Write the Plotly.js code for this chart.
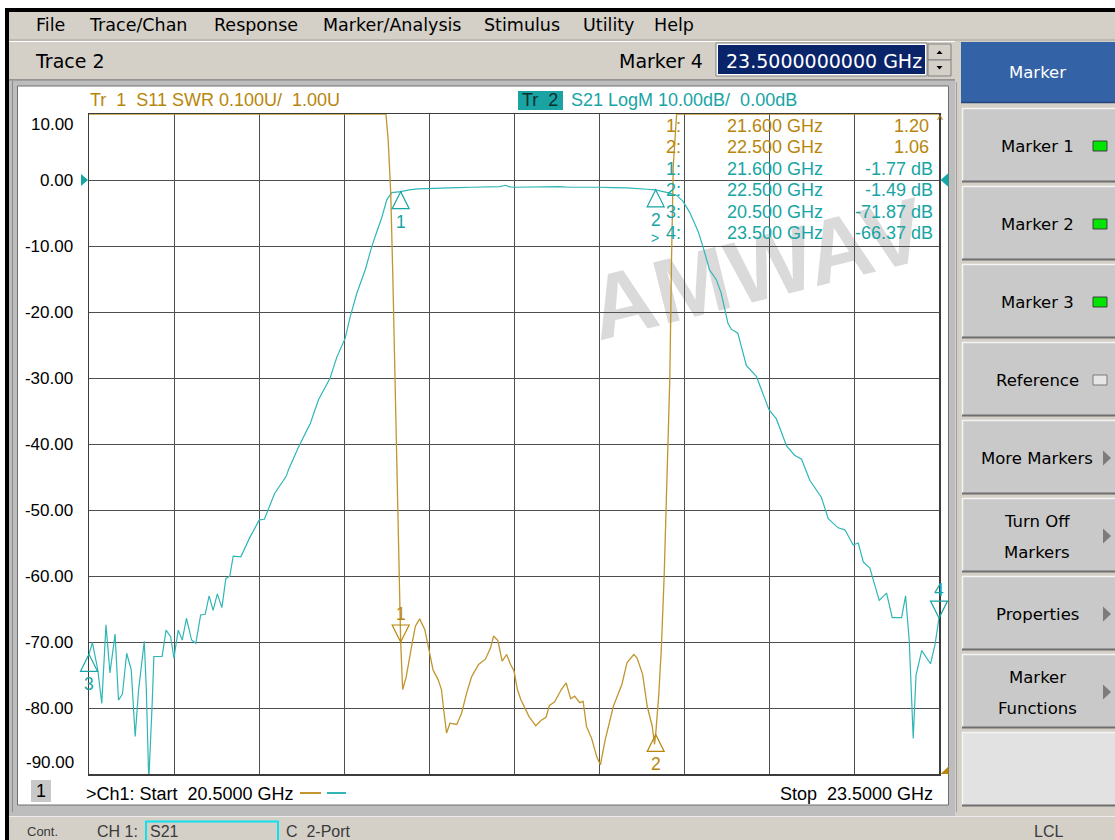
<!DOCTYPE html>
<html><head><meta charset="utf-8">
<script src="https://cdn.plot.ly/plotly-3.0.1.min.js"></script>
<style>html,body{margin:0;padding:0;background:#fff;overflow:hidden}#chart{width:1115px;height:840px}</style>
</head><body><div id="chart"></div>
<script>
// ---------------- DATA ----------------
const S21_FREQ_GHZ = [20.500,20.512,20.531,20.545,20.560,20.574,20.592,20.604,20.618,20.633,20.649,20.663,20.675,20.695,20.702,20.711,20.723,20.729,20.758,20.772,20.788,20.800,20.803,20.815,20.829,20.844,20.862,20.877,20.894,20.910,20.924,20.938,20.953,20.969,20.983,20.997,21.009,21.036,21.066,21.101,21.119,21.137,21.155,21.196,21.204,21.240,21.281,21.310,21.351,21.375,21.404,21.422,21.445,21.475,21.498,21.516,21.534,21.551,21.569,21.600,21.630,21.660,21.700,21.750,21.800,21.850,21.900,21.950,21.970,21.985,22.000,22.050,22.100,22.160,22.200,22.250,22.300,22.350,22.400,22.468,22.500,22.550,22.573,22.596,22.620,22.650,22.667,22.690,22.714,22.731,22.755,22.767,22.790,22.820,22.856,22.900,22.926,22.962,22.990,23.015,23.044,23.085,23.109,23.144,23.168,23.197,23.215,23.233,23.256,23.289,23.315,23.335,23.368,23.382,23.395,23.409,23.419,23.439,23.470,23.486,23.500];
const S21_DB = [-71.87,-70.1,-74.2,-79.3,-67.4,-74.7,-68.8,-78.8,-77.9,-71.7,-74.2,-84.3,-77.3,-69.9,-76.8,-91.0,-79.3,-72.2,-72.2,-68.2,-69.2,-72.5,-71.5,-68.2,-69.7,-66.4,-69.7,-70.2,-65.9,-65.8,-63.0,-65.2,-62.7,-64.8,-60.4,-60.0,-57.0,-57.1,-54.3,-51.5,-51.4,-49.5,-47.5,-44.9,-43.9,-40.4,-36.9,-33.3,-30.0,-26.8,-24.0,-20.7,-17.2,-13.6,-10.1,-7.8,-5.6,-3.0,-1.9,-1.77,-1.5,-1.35,-1.26,-1.2,-1.15,-1.1,-1.05,-1.0,-0.8,-1.05,-1.1,-1.05,-1.0,-1.0,-1.1,-1.05,-1.1,-1.15,-1.2,-1.4,-1.49,-2.0,-2.3,-3.2,-4.9,-7.8,-10.1,-13.6,-15.1,-17.1,-21.7,-22.6,-23.2,-28.1,-29.8,-34.8,-36.2,-40.3,-41.7,-42.3,-45.5,-48.1,-51.3,-52.7,-53.0,-55.3,-55.0,-57.9,-58.8,-63.7,-62.6,-66.3,-66.3,-63.0,-69.8,-84.6,-75.0,-71.3,-73.3,-70.4,-66.37];

const S11_FREQ_GHZ = [20.500,21.548,21.556,21.565,21.572,21.578,21.584,21.590,21.595,21.600,21.607,21.619,21.643,21.652,21.667,21.685,21.702,21.714,21.732,21.744,21.752,21.762,21.774,21.798,21.815,21.833,21.851,21.875,21.899,21.917,21.928,21.943,21.958,21.974,21.988,22.000,22.012,22.024,22.053,22.077,22.095,22.113,22.125,22.143,22.167,22.184,22.200,22.214,22.232,22.244,22.256,22.274,22.292,22.305,22.322,22.351,22.381,22.399,22.423,22.434,22.454,22.470,22.488,22.496,22.500,22.511,22.520,22.530,22.540,22.550,22.556,22.562,22.574,23.500];
const S11_SWR = [2.0,2.0,1.96,1.88,1.76,1.63,1.50,1.38,1.27,1.20,1.128,1.146,1.204,1.224,1.235,1.219,1.184,1.158,1.143,1.128,1.097,1.062,1.077,1.075,1.092,1.123,1.148,1.166,1.174,1.191,1.209,1.202,1.171,1.181,1.166,1.156,1.128,1.113,1.087,1.073,1.081,1.086,1.104,1.109,1.128,1.138,1.114,1.118,1.108,1.110,1.072,1.054,1.026,1.014,1.052,1.103,1.136,1.169,1.181,1.176,1.151,1.103,1.072,1.045,1.06,1.12,1.19,1.30,1.45,1.60,1.78,1.92,2.0,2.0];

const S21_MARKER_FREQ = [21.6, 22.5, 20.5, 23.5];
const S21_MARKER_DB = [-1.77, -1.49, -71.87, -66.37];
const S21_MARKER_NAME = ['1', '2', '3', '4'];
const S11_MARKER_FREQ = [21.6, 22.5];
const S11_MARKER_SWR = [1.20, 1.06];
const S11_MARKER_NAME = ['1', '2'];

const Y_TICK_VALUES = [0, -10, -20, -30, -40, -50, -60, -70, -80];
const Y_TICK_LABELS = ['0.00', '-10.00', '-20.00', '-30.00', '-40.00', '-50.00', '-60.00', '-70.00', '-80.00'];
const Y_EDGE_LABELS = ['10.00', '-90.00'];

const TABLE_NUM = ['1:', '2:', '1:', '2:', '3:', '4:'];
const TABLE_FREQ = ['21.600 GHz', '22.500 GHz', '21.600 GHz', '22.500 GHz', '20.500 GHz', '23.500 GHz'];
const TABLE_VAL = ['1.20', '1.06', '-1.77 dB', '-1.49 dB', '-71.87 dB', '-66.37 dB'];
const TABLE_TRACE = [1, 1, 2, 2, 2, 2];

const MENU_ITEMS = ['File', 'Trace/Chan', 'Response', 'Marker/Analysis', 'Stimulus', 'Utility', 'Help'];
const SOFTKEY_LINES = [['Marker 1'], ['Marker 2'], ['Marker 3'], ['Reference'], ['More Markers'], ['Turn Off', 'Markers'], ['Properties'], ['Marker', 'Functions'], []];
const SOFTKEY_KIND = ['on', 'on', 'on', 'off', 'arrow', 'arrow', 'arrow', 'arrow', 'blank'];

// ---------------- LAYOUT HELPERS ----------------
const W = 1115, H = 840, PL = 89, PT = 114, PW = 850, PH = 660;
const X_RANGE = [20.5, 23.5], Y_RANGE = [-90, 10], Y2_RANGE = [1.0, 2.0];
const GOLD_T = '#b8860b', CYAN_T = '#17a5a5', GOLD_L = '#c1952f', CYAN_L = '#30b6b6';
const px = x => (x - PL) / PW;
const py = y => (PT + PH - y) / PH;
const nb = s => s.replace(/ /g, '\u00a0');
const shapes = [];
const ann = [];
function rect(x0, y0, x1, y1, fill, lc, lw, layer) {
  shapes.push({type: 'rect', xref: 'paper', yref: 'paper', x0: px(x0), x1: px(x1), y0: py(y0), y1: py(y1),
    fillcolor: fill || 'rgba(0,0,0,0)', line: {color: lc || 'rgba(0,0,0,0)', width: lw || 0}, layer: layer || 'below'});
}
function hline(x0, x1, y, c, w, layer) {
  shapes.push({type: 'line', xref: 'paper', yref: 'paper', x0: px(x0), x1: px(x1), y0: py(y), y1: py(y), line: {color: c, width: w || 1}, layer: layer || 'below'});
}
function vline(x, y0, y1, c, w, layer) {
  shapes.push({type: 'line', xref: 'paper', yref: 'paper', x0: px(x), x1: px(x), y0: py(y0), y1: py(y1), line: {color: c, width: w || 1}, layer: layer || 'below'});
}
function poly(pts, fill, layer) {
  const d = pts.map((p, i) => (i ? 'L' : 'M') + px(p[0]) + ',' + py(p[1])).join('') + 'Z';
  shapes.push({type: 'path', xref: 'paper', yref: 'paper', path: d, fillcolor: fill, line: {width: 0}, layer: layer || 'below'});
}
function text(s, x, y, o) {
  o = o || {};
  ann.push({xref: 'paper', yref: 'paper', x: px(x), y: py(y), text: nb(s), showarrow: false,
    xanchor: o.anchor || 'left', yanchor: 'middle',
    font: {family: o.family || 'Liberation Sans', size: o.size || 18, color: o.color || '#000'}});
}

// ---------------- WINDOW CHROME ----------------
rect(5, 8, W, 12, '#000');
rect(5, 8, 9, H, '#000');
rect(9, 12, W, 80, '#d4d0c8');
hline(9, W, 40, '#a8a49c', 1); hline(9, W, 41.5, '#ffffff', 1);
MENU_ITEMS.forEach((m, i) => text(m, [34, 87, 212, 321, 482, 581, 652][i], 25, {family: 'DejaVu Sans', size: 17.5}));
text('Trace 2', 33, 61, {family: 'DejaVu Sans', size: 19});
text('Marker 4', 705, 61, {family: 'DejaVu Sans', size: 19, anchor: 'right'});
rect(716, 43, 927, 76, '#ffffff', '#808080', 1);
rect(718, 45, 925, 74, '#0a246a');
text('23.5000000000 GHz', 724, 61, {family: 'DejaVu Sans', size: 19, color: '#ffffff'});
rect(928, 44, 951, 60, '#d4d0c8', '#808080', 1);
rect(928, 60, 951, 76, '#d4d0c8', '#808080', 1);
poly([[936.5, 54], [942.5, 54], [939.5, 50.5]], '#000');
poly([[936.5, 66], [942.5, 66], [939.5, 69.5]], '#000');
hline(9, 955, 80, '#808080', 1.5);
// chart frame
rect(9, 81, 955, 816, '#bdbdbd');
vline(12.5, 81, 812, '#8a8a8a', 1);
rect(17.5, 86, 948.5, 805, '#ffffff', '#6e6e6e', 1);
// status bar
rect(9, 816, W, H, '#d4d0c8');
hline(9, W, 816.5, '#ececec', 1);
text('Cont.', 25, 831, {size: 13, color: '#3a3a3a'});
text('CH 1:', 95, 831, {size: 16, color: '#3a3a3a'});
rect(146, 821.5, 278, 841, null, '#10e0ea', 2);
text('S21', 148, 831, {size: 16, color: '#3a3a3a'});
text('C  2-Port', 284, 831, {size: 16, color: '#3a3a3a'});
text('LCL', 1048, 831, {size: 16, color: '#3a3a3a', anchor: 'center'});
// right soft-key panel
rect(955, 41, W, 816, '#d4d0c8');
vline(956.5, 82, 812, '#a0a0a0', 1);
rect(961, 42, W, 103, '#3462a6');
hline(961, W, 102.5, '#24467a', 1.5);
text('Marker', 1037, 72.5, {family: 'DejaVu Sans', size: 16.5, color: '#ffffff', anchor: 'center'});
SOFTKEY_LINES.forEach((lines, i) => {
  const y0 = 108 + i * 78, y1 = y0 + 74, yc = (y0 + y1) / 2;
  const kind = SOFTKEY_KIND[i];
  rect(962, y0, W, y1, kind === 'blank' ? '#e2e2e2' : '#c9c9c9');
  hline(962, W, y0 + 0.5, '#f4f4f4', 1.5);
  vline(962.5, y0, y1, '#f4f4f4', 1.5);
  hline(962, W, y1 - 0.5, '#6e6e6e', 2);
  if (lines.length === 1) text(lines[0], 1037, yc + 1.5, {family: 'DejaVu Sans', size: 16.5, anchor: 'center'});
  if (lines.length === 2) { text(lines[0], 1037, yc - 14, {family: 'DejaVu Sans', size: 16.5, anchor: 'center'});
    text(lines[1], 1037, yc + 17, {family: 'DejaVu Sans', size: 16.5, anchor: 'center'}); }
  if (kind === 'on') rect(1093, yc - 4, 1107, yc + 6, '#00e600', '#404040', 1);
  if (kind === 'off') rect(1093, yc - 4, 1107, yc + 6, '#e6e6e6', '#7a7a7a', 1);
  if (kind === 'arrow') poly([[1103, yc - 6.5], [1111, yc + 1], [1103, yc + 8.5]], '#7c7c7c');
});

// ---------------- CHART TEXTS ----------------
text('Tr  1  S11 SWR 0.100U/  1.00U', 87.5, 99.5, {color: GOLD_T});
rect(518, 91, 563, 110, '#1aa3a3');
text('Tr  2', 519.5, 100.5, {color: '#0b2f2f'});
text('S21 LogM 10.00dB/  0.00dB', 569, 100.5, {color: CYAN_T});
TABLE_NUM.forEach((n, i) => {
  const y = 126 + i * 21.4, c = TABLE_TRACE[i] === 1 ? GOLD_T : CYAN_T;
  text(n, 683, y, {color: c, anchor: 'right'});
  text(TABLE_FREQ[i], 724.5, y, {color: c});
  text(TABLE_VAL[i], TABLE_TRACE[i] === 1 ? 930.5 : 935, y, {color: c, anchor: 'right'});
});
text('>', 655, 238, {color: CYAN_T, anchor: 'center', size: 14});
text(Y_EDGE_LABELS[0], 75.5, 124.5, {size: 17, anchor: 'right'});
text(Y_EDGE_LABELS[1], 75.5, 762, {size: 17, anchor: 'right'});
rect(31, 780, 51, 802, '#c8c8c8');
text('1', 41, 791, {size: 18, anchor: 'center'});
text('>Ch1: Start  20.5000 GHz', 84, 793.5, {size: 18});
hline(300, 321, 793, GOLD_L, 2); hline(327, 346, 793, CYAN_L, 2);
text('Stop  23.5000 GHz', 935, 794, {size: 18, anchor: 'right'});
text('^', 940, 120, {size: 13, color: GOLD_T, anchor: 'center'});
// watermark
shapes.push({type: 'rect', xref: 'paper', yref: 'paper', x0: px(698), x1: px(812), y0: py(232), y1: py(288),
  fillcolor: 'rgba(0,0,0,0)', line: {width: 0}, layer: 'below',
  label: {text: '<b>AMWAV</b>', textangle: -14, textposition: 'middle center',
    font: {family: 'Liberation Sans', size: 91, color: '#dadada'}}});

// ---------------- REFERENCE ARROWS & MARKERS ----------------
function anchoredPath(xpaper, yref, yval, d, color, fill) {
  shapes.push({type: 'path', xref: 'paper', yref: yref, xsizemode: 'pixel', ysizemode: 'pixel',
    xanchor: xpaper, yanchor: yval, path: d, fillcolor: fill || 'rgba(0,0,0,0)',
    line: {color: color, width: fill ? 0 : 1.2}, layer: 'above'});
}
anchoredPath(0, 'y', 0, 'M-8,6L-1,0L-8,-6Z', CYAN_T, CYAN_T);
anchoredPath(1, 'y', 0, 'M1.5,0L9.5,7L9.5,-7Z', CYAN_T, CYAN_T);
anchoredPath(1, 'y2', Y2_RANGE[0], 'M1.5,0L9.5,7.5L9.5,-7.5Z', GOLD_T, GOLD_T);
const fx = f => (f - X_RANGE[0]) / (X_RANGE[1] - X_RANGE[0]);
const UP = 'M0,0L-8.5,-17L8.5,-17Z', DOWN = 'M0,0L-8.5,17L8.5,17Z';
function markerLabel(f, v, yref, name, color, up) {
  ann.push({xref: 'x', yref: yref, x: f, y: v, text: name, showarrow: false, xanchor: 'center', yanchor: 'middle',
    yshift: up ? -30 : 28, font: {family: 'Liberation Sans', size: 17.5, color: color}});
}
S21_MARKER_FREQ.forEach((f, i) => {
  const up = i !== 3;
  anchoredPath(fx(f), 'y', S21_MARKER_DB[i], up ? UP : DOWN, CYAN_T);
  markerLabel(f, S21_MARKER_DB[i], 'y', S21_MARKER_NAME[i], CYAN_T, up);
});
S11_MARKER_FREQ.forEach((f, i) => {
  const up = i !== 0;
  anchoredPath(fx(f), 'y2', S11_MARKER_SWR[i], up ? UP : DOWN, GOLD_T);
  markerLabel(f, S11_MARKER_SWR[i], 'y2', S11_MARKER_NAME[i], GOLD_T, up);
});

// ---------------- PLOT ----------------
const traces = [
  {x: S21_FREQ_GHZ, y: S21_DB, type: 'scatter', mode: 'lines', yaxis: 'y', line: {color: CYAN_L, width: 1.2}, hoverinfo: 'skip'},
  {x: S11_FREQ_GHZ, y: S11_SWR, type: 'scatter', mode: 'lines', yaxis: 'y2', line: {color: GOLD_L, width: 1.3}, hoverinfo: 'skip'}
];
const layout = {
  width: W, height: H, autosize: false,
  margin: {l: PL, r: W - PL - PW, t: PT, b: H - PT - PH, pad: 0},
  paper_bgcolor: '#ffffff', plot_bgcolor: 'rgba(0,0,0,0)',
  showlegend: false, hovermode: false,
  xaxis: {range: X_RANGE, tick0: 20.5, dtick: 0.3, showticklabels: false, ticks: '', zeroline: false,
    showgrid: true, gridcolor: '#4f4f4f', gridwidth: 1, showline: true, mirror: true, linecolor: '#3c3c3c', linewidth: 1.5,
    layer: 'below traces', fixedrange: true},
  yaxis: {range: Y_RANGE, tickvals: Y_TICK_VALUES, ticktext: Y_TICK_LABELS, ticks: '', ticklabelstandoff: 11,
    tickfont: {family: 'Liberation Sans', size: 17, color: '#000'}, zeroline: false,
    showgrid: true, gridcolor: '#4f4f4f', gridwidth: 1, showline: true, mirror: true, linecolor: '#3c3c3c', linewidth: 1.5,
    layer: 'below traces', fixedrange: true},
  yaxis2: {range: Y2_RANGE, overlaying: 'y', side: 'right', visible: false, showgrid: false, zeroline: false, fixedrange: true},
  shapes: shapes, annotations: ann
};
Plotly.newPlot('chart', traces, layout, {staticPlot: true, displayModeBar: false});
</script></body></html>
